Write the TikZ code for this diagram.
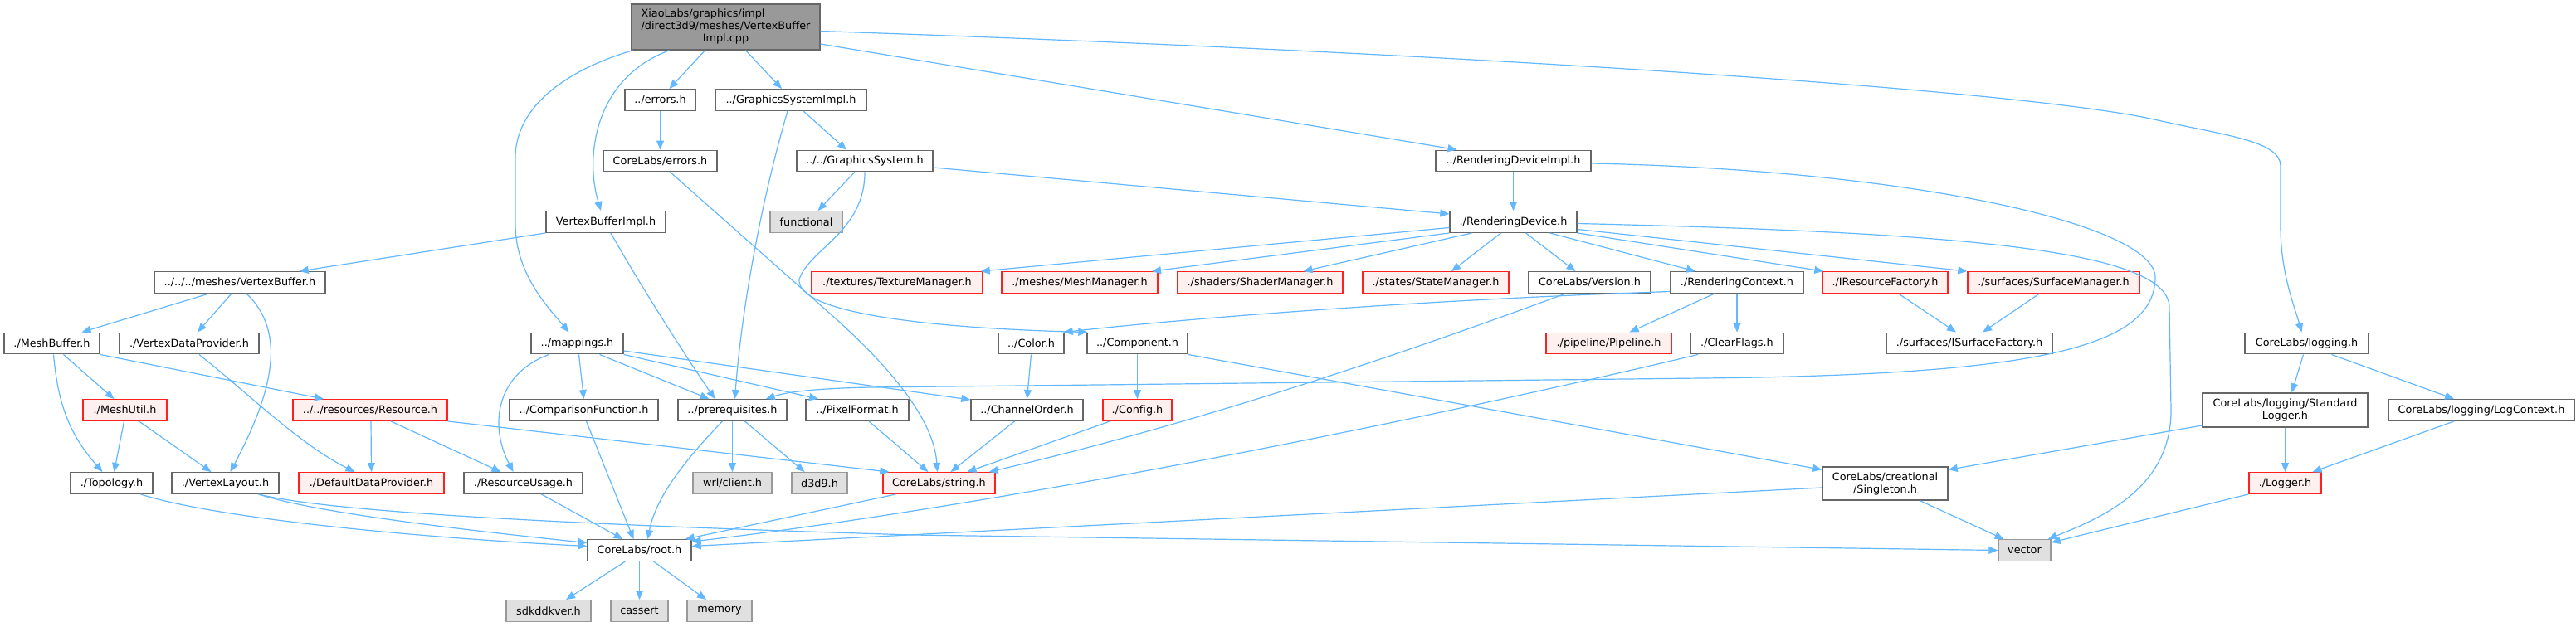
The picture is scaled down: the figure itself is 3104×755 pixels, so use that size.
\documentclass[tikz,border=0pt]{standalone}
\usepackage{fontspec}
\setmainfont{DejaVu Sans}[Ligatures=CommonOff]
\usetikzlibrary{arrows.meta}
\definecolor{edgec}{HTML}{63B8FF}
\definecolor{bordc}{HTML}{666666}
\definecolor{extb}{HTML}{999999}
\definecolor{extf}{HTML}{E0E0E0}
\definecolor{redf}{HTML}{FFF0F0}
\definecolor{redb}{HTML}{FF2020}
\definecolor{rootf}{HTML}{999999}
\begin{document}
\begin{tikzpicture}[x=1pt,y=-1pt,
  nbase/.style={rectangle, line width=1.4pt, inner sep=0pt, minimum height=25.5pt, font=\fontsize{12.8}{15}\selectfont, text=black},
  nbox/.style={nbase, draw=bordc, fill=white},
  nred/.style={nbase, draw=redb, fill=redf},
  nextern/.style={nbase, draw=extb, fill=extf},
  nroot/.style={nbase, draw=bordc, fill=rootf},
  dep/.style={draw=edgec, line width=1.2pt, -{Triangle[length=11pt,width=9pt]}},
]
\fill[white] (0,0) rectangle (3104,755);
\useasboundingbox (0,0) rectangle (3104,755);

% nodes
\node[nroot, minimum width=227pt, minimum height=55pt] (root) at (874.5,32.5)
  {\begin{tabular}{@{}l@{}}XiaoLabs/graphics/impl\\/direct3d9/meshes/VertexBuffer\\\multicolumn{1}{@{}c@{}}{Impl.cpp}\end{tabular}};
\node[nbox, minimum width=85pt] (errors) at (795.5,120.5) {../errors.h};
\node[nbox, minimum width=182pt] (gsimpl) at (953,120.5) {../GraphicsSystemImpl.h};
\node[nbox, minimum width=137pt] (clerrors) at (795.5,194) {CoreLabs/errors.h};
\node[nbox, minimum width=164pt] (gs) at (1042,194) {../../GraphicsSystem.h};
\node[nbox, minimum width=187pt] (rdimpl) at (1823.5,194) {../RenderingDeviceImpl.h};
\node[nbox, minimum width=144pt] (vbimpl) at (730,267.5) {VertexBufferImpl.h};
\node[nextern, minimum width=87pt] (functional) at (971.5,267.5) {functional};
\node[nbox, minimum width=153pt] (rd) at (1823.5,267.5) {./RenderingDevice.h};
\node[nbox, minimum width=206pt] (vb) at (289,340.5) {../../../meshes/VertexBuffer.h};
\node[nred, minimum width=206pt] (texmgr) at (1081,340.5) {./textures/TextureManager.h};
\node[nred, minimum width=188pt] (meshmgr) at (1301,340.5) {./meshes/MeshManager.h};
\node[nred, minimum width=199pt] (shadermgr) at (1518.5,340.5) {./shaders/ShaderManager.h};
\node[nred, minimum width=176pt] (statemgr) at (1730,340.5) {./states/StateManager.h};
\node[nbox, minimum width=147pt] (version) at (1915.5,340.5) {CoreLabs/Version.h};
\node[nbox, minimum width=160pt] (rctx) at (2093,340.5) {./RenderingContext.h};
\node[nred, minimum width=151pt] (iresf) at (2271.5,340.5) {./IResourceFactory.h};
\node[nred, minimum width=207pt] (surfmgr) at (2474.5,340.5) {./surfaces/SurfaceManager.h};
\node[nbox, minimum width=115pt] (meshbuf) at (62.5,414) {./MeshBuffer.h};
\node[nbox, minimum width=168pt] (vdp) at (228,414) {./VertexDataProvider.h};
\node[nbox, minimum width=111pt] (mappings) at (695.5,414) {../mappings.h};
\node[nbox, minimum width=79pt] (color) at (1242.5,414) {../Color.h};
\node[nbox, minimum width=121pt] (component) at (1370.5,414) {../Component.h};
\node[nred, minimum width=151pt] (pipeline) at (1938.5,414) {./pipeline/Pipeline.h};
\node[nbox, minimum width=112pt] (clearflags) at (2093,414) {./ClearFlags.h};
\node[nbox, minimum width=200pt] (isurff) at (2373,414) {./surfaces/ISurfaceFactory.h};
\node[nbox, minimum width=149pt] (logging) at (2779.5,414) {CoreLabs/logging.h};
\node[nred, minimum width=101pt] (meshutil) at (150.5,494.5) {./MeshUtil.h};
\node[nred, minimum width=186pt] (resource) at (446,494.5) {../../resources/Resource.h};
\node[nbox, minimum width=179pt] (compfn) at (703.5,494.5) {../ComparisonFunction.h};
\node[nbox, minimum width=131pt] (prereq) at (882.5,494.5) {../prerequisites.h};
\node[nbox, minimum width=124pt] (pixelfmt) at (1033,494.5) {../PixelFormat.h};
\node[nbox, minimum width=135pt] (chorder) at (1237.5,494.5) {../ChannelOrder.h};
\node[nred, minimum width=83pt] (config) at (1370.5,494.5) {./Config.h};
\node[nbox, minimum width=199pt, minimum height=41pt, align=center] (stdlogger) at (2753.5,494.5) {CoreLabs/logging/Standard\\Logger.h};
\node[nbox, minimum width=224pt] (logctx) at (2990,494.5) {CoreLabs/logging/LogContext.h};
\node[nbox, minimum width=99pt] (topology) at (134.5,582.5) {./Topology.h};
\node[nbox, minimum width=129pt] (vlayout) at (271.5,582.5) {./VertexLayout.h};
\node[nred, minimum width=175pt] (defdp) at (447.5,582.5) {./DefaultDataProvider.h};
\node[nbox, minimum width=143pt] (resusage) at (630.5,582.5) {./ResourceUsage.h};
\node[nextern, minimum width=95pt] (wrl) at (882.5,582.5) {wrl/client.h};
\node[nextern, minimum width=67pt] (d3d9) at (987.5,582.5) {d3d9.h};
\node[nred, minimum width=135pt] (string) at (1131.5,582.5) {CoreLabs/string.h};
\node[nbox, minimum width=151pt, minimum height=40pt, align=center] (singleton) at (2271.5,583) {CoreLabs/creational\\/Singleton.h};
\node[nred, minimum width=87pt] (logger) at (2753.5,582.5) {./Logger.h};
\node[nbox, minimum width=125pt] (roothdr) at (770.5,663.5) {CoreLabs/root.h};
\node[nextern, minimum width=63pt] (vector) at (2439.5,663.5) {vector};
\node[nextern, minimum width=102pt] (sdk) at (661,736.5) {sdkddkver.h};
\node[nextern, minimum width=69pt] (cassert) at (770.5,736.5) {cassert};
\node[nextern, minimum width=78pt] (memory) at (867,736.5) {memory};

% edges from the root file
\draw[dep] ([xshift=-112pt]root.south) .. controls (680,85) and (621,130) .. (621,190) -- (621,270) .. controls (621,330) and (660,370) .. ([xshift=-10pt]mappings.north);
\draw[dep] ([xshift=-68pt]root.south) .. controls (715,95) and (705,190) .. ([xshift=-6pt]vbimpl.north);
\draw[dep] ([xshift=-25pt]root.south) -- ([xshift=11pt]errors.north);
\draw[dep] ([xshift=24pt]root.south) -- ([xshift=-11pt]gsimpl.north);
\draw[dep] ([yshift=-20.5pt]root.east) -- ([xshift=-68pt]rdimpl.north);
\draw[dep] ([yshift=-5pt]root.east) .. controls (1800,65) and (2450,110) .. (2600,145) .. controls (2680,163) and (2748,170) .. (2748,200) -- (2748,273) .. controls (2748,330) and (2765,370) .. ([xshift=-6pt]logging.north);

% upper part
\draw[dep] (errors.south) -- (clerrors.north);
\draw[dep] ([xshift=12pt]clerrors.south) -- (1000,378) .. controls (1060,431) and (1125,500) .. ([xshift=-2pt]string.north);
\draw[dep] ([xshift=-4pt]gsimpl.south) .. controls (915,250) and (893,380) .. ([xshift=3pt]prereq.north);
\draw[dep] ([xshift=15pt]gsimpl.south) -- ([xshift=-22pt]gs.north);
\draw[dep] ([xshift=-12pt]gs.south) -- ([xshift=14pt]functional.north);
\draw[dep] ([yshift=-8pt]gs.east) -- ([yshift=9.5pt]rd.west);
\draw[dep] (gs.south) .. controls (1042,280) and (975,300) .. (963,337) .. controls (960,375) and (1100,395) .. ([xshift=1pt]component.north west);
\draw[dep] (rdimpl.south) -- (rd.north);
\draw[dep] ([yshift=-3pt]rdimpl.east) .. controls (2300,205) and (2598,270) .. (2597,335) .. controls (2596,420) and (2450,452) .. (2050,456) -- (1050,467) .. controls (990,468) and (950,472) .. ([xshift=-26pt]prereq.north east);

% RenderingDevice
\draw[dep] ([yshift=-7pt]rd.west) -- ([xshift=-3pt]texmgr.north east);
\draw[dep] (rd.south west) -- ([xshift=87pt]meshmgr.north);
\draw[dep] ([xshift=-50pt]rd.south) -- ([xshift=52pt]shadermgr.north);
\draw[dep] ([xshift=-15pt]rd.south) -- ([xshift=19pt]statemgr.north);
\draw[dep] ([xshift=15pt]rd.south) -- ([xshift=-17pt]version.north);
\draw[dep] ([xshift=44pt]rd.south) -- ([xshift=-50pt]rctx.north);
\draw[dep] (rd.south east) -- ([xshift=2pt]iresf.north west);
\draw[dep] ([yshift=-9pt]rd.east) -- (surfmgr.north west);
\draw[dep] ([yshift=-2pt]rd.east) .. controls (2350,280) and (2612,300) .. (2614,370) -- (2616,495) .. controls (2616,590) and (2530,625) .. ([xshift=-4pt]vector.north east);

% RenderingContext and friends
\draw[dep] ([yshift=-11pt]rctx.west) .. controls (1700,362) and (1420,385) .. ([xshift=-1pt]color.north east);
\draw[dep] ([xshift=-27pt]rctx.south) -- ([xshift=25pt]pipeline.north);
\draw[dep] (rctx.south) -- (clearflags.north);
\draw[dep] ([xshift=-47pt]clearflags.south) .. controls (1700,510) and (1200,610) .. ([yshift=-3pt]roothdr.north east);
\draw[dep] ([xshift=16pt]iresf.south) -- ([xshift=-16pt]isurff.north);
\draw[dep] ([xshift=-17pt]surfmgr.south) -- ([xshift=16pt]isurff.north);
\draw[dep] (component.south) -- (config.north);
\draw[dep] (component.south east) -- ([yshift=-4pt]singleton.north west);
\draw[dep] (color.south) -- (chorder.north);
\draw[dep] ([xshift=-15pt]chorder.south) -- ([xshift=14pt]string.north);
\draw[dep] ([xshift=-33pt]config.south) -- ([xshift=34pt]string.north);
\draw[dep] ([xshift=14pt]pixelfmt.south) -- ([xshift=-13pt]string.north);
\draw[dep] ([xshift=-29pt]version.south) .. controls (1600,460) and (1380,525) .. ([xshift=-8pt]string.north east);
\draw[dep] (resource.south east) -- ([xshift=8pt]string.north west);
\draw[dep] ([xshift=-52pt]string.south) -- ([xshift=-8pt]roothdr.north east);

% vertex buffer side
\draw[dep] (vbimpl.south west) -- ([xshift=-32pt]vb.north east);
\draw[dep] ([xshift=6pt]vbimpl.south) .. controls (775,350) and (830,435) .. ([xshift=-21pt]prereq.north);
\draw[dep] ([xshift=-37pt]vb.south) -- ([xshift=36pt]meshbuf.north);
\draw[dep] ([xshift=-10pt]vb.south) -- ([xshift=10pt]vdp.north);
\draw[dep] ([xshift=8pt]vb.south) .. controls (345,400) and (330,470) .. ([xshift=6pt]vlayout.north);
\draw[dep] ([xshift=14pt]meshbuf.south) -- ([xshift=-13pt]meshutil.north);
\draw[dep] ([xshift=2pt]meshbuf.south) .. controls (70,490) and (85,525) .. ([xshift=-11pt]topology.north);
\draw[dep] (meshbuf.south east) -- ([xshift=-56pt]resource.north);
\draw[dep] ([xshift=12pt]vdp.south) .. controls (300,475) and (360,535) .. ([xshift=-20pt]defdp.north);
\draw[dep] ([xshift=-1pt]meshutil.south) -- ([xshift=3pt]topology.north);
\draw[dep] ([xshift=17pt]meshutil.south) -- ([xshift=-17pt]vlayout.north);
\draw[dep] ([xshift=1pt]resource.south) -- (defdp.north);
\draw[dep] ([xshift=25pt]resource.south) -- ([xshift=-27pt]resusage.north);
\draw[dep] ([xshift=35pt]topology.south) .. controls (260,625) and (500,648) .. ([yshift=5pt]roothdr.west);
\draw[dep] ([xshift=40pt]vlayout.south) .. controls (380,618) and (550,638) .. ([yshift=9pt]roothdr.west);
\draw[dep] ([xshift=40pt]vlayout.south) .. controls (400,618) and (700,633) .. (1100,645) -- (vector.west);

% mappings
\draw[dep] ([xshift=-34pt]mappings.south) .. controls (600,450) and (588,510) .. ([xshift=-12pt]resusage.north);
\draw[dep] ([xshift=2pt]mappings.south) -- (compfn.north);
\draw[dep] ([xshift=27pt]mappings.south) -- ([xshift=-28pt]prereq.north);
\draw[dep] (mappings.south east) -- ([xshift=-47pt]pixelfmt.north);
\draw[dep] ([yshift=-9pt]mappings.east) -- ([yshift=-1pt]chorder.north west);

% into root.h
\draw[dep] ([xshift=3pt]compfn.south) -- ([xshift=-7pt]roothdr.north);
\draw[dep] ([xshift=-12pt]prereq.south) .. controls (825,555) and (790,600) .. ([xshift=10pt]roothdr.north);
\draw[dep] (prereq.south) -- (wrl.north);
\draw[dep] ([xshift=15pt]prereq.south) -- ([xshift=-18pt]d3d9.north);
\draw[dep] ([xshift=22pt]resusage.south) -- ([xshift=-20pt]roothdr.north);
\draw[dep] ([xshift=-17pt]roothdr.south) -- ([xshift=21pt]sdk.north);
\draw[dep] (roothdr.south) -- (cassert.north);
\draw[dep] ([xshift=17pt]roothdr.south) -- ([xshift=-16pt]memory.north);

% singleton & logging
\draw[dep] ([yshift=-5pt]singleton.west) -- ([yshift=5pt]roothdr.east);
\draw[dep] ([xshift=42pt]singleton.south) -- ([xshift=-25pt]vector.north);
\draw[dep] ([yshift=-18.5pt]stdlogger.west) -- ([yshift=-4pt]singleton.north east);
\draw[dep] (stdlogger.south) -- (logger.north);
\draw[dep] ([xshift=-33pt]logctx.south) -- ([xshift=33pt]logger.north);
\draw[dep] ([xshift=-4pt]logging.south) -- ([xshift=8pt]stdlogger.north);
\draw[dep] ([xshift=30pt]logging.south) -- ([xshift=-33pt]logctx.north);
\draw[dep] (logger.south west) -- ([yshift=-4pt]vector.north east);
\end{tikzpicture}
\end{document}
